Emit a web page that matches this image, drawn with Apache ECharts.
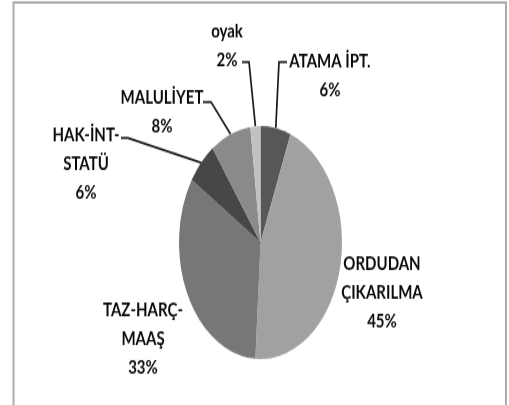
<!DOCTYPE html>
<html>
<head>
<meta charset="utf-8">
<script src="https://cdn.jsdelivr.net/npm/echarts@6/dist/echarts.min.js"></script>
<style>
  html, body { margin: 0; padding: 0; background: #fff; }
  #wrap { position: relative; width: 509px; height: 405px; overflow: hidden; }
  #pie, #labels { position: absolute; left: 0; top: 0; width: 509px; height: 405px; }
  #pie { transform-origin: 260.5px 242.5px; transform: scaleY(1.43); }
  #labels { transform-origin: 0 0; transform: scaleY(1.25); }
</style>
</head>
<body>
<div id="wrap">
  <div id="pie"></div>
  <div id="labels"></div>
</div>
<script>
// slice names and shares (%), clockwise from 12 o'clock
var categories = ['ATAMA İPT.', 'ORDUDAN\nÇIKARILMA', 'TAZ-HARÇ-\nMAAŞ', 'HAK-İNT-\nSTATÜ', 'MALULİYET', 'oyak'];
var values = [6, 45, 33, 6, 8, 2];
var colors = ['#575757', '#a1a1a1', '#777777', '#474747', '#8a8a8a', '#c2c2c2'];

// label anchors (centre of text block, page px) and leader line attach points
var labelAt = [[330, 76], [382, 293], [143, 339], [86, 164], [162, 112], [227, 46]];
var lineAttach = [[287, 62], null, null, [121, 138], [203, 102], [242, 62]];
var elbowDx = [-8, 0, 0, 7, 8, 7];

var cx = 260.5, cy = 242.5, r = 81.5, k = 1.43;
var s = 1.25; // vertical stretch of the text layer
var font = "Lato, 'Open Sans', sans-serif";

function makeData() {
    return categories.map(function (name, i) {
        return {
            name: name,
            value: values[i],
            itemStyle: { color: colors[i] },
            labelLine: { show: lineAttach[i] !== null }
        };
    });
}

// layer 1: the slices, stretched into an ellipse
var pieChart = echarts.init(document.getElementById('pie'));
pieChart.setOption({
    animation: false,
    series: [{
        type: 'pie',
        silent: true,
        center: [cx, cy],
        radius: r,
        startAngle: 90,
        clockwise: true,
        label: { show: false },
        labelLine: { show: false },
        emphasis: { disabled: true },
        itemStyle: { borderWidth: 0 },
        data: makeData()
    }]
});

// layer 2: frame, labels and leader lines (only the slice directions are used from this pie)
var labelChart = echarts.init(document.getElementById('labels'));
labelChart.setOption({
    animation: false,
    graphic: [{
        type: 'rect',
        shape: { x: 13.5, y: 2.5 / s, width: 492.5, height: 430 / s },
        style: { fill: 'none', stroke: '#ababab', lineWidth: 2 }
    }],
    series: [{
        type: 'pie',
        silent: true,
        center: [cx, cy / s],
        radius: 1,
        startAngle: 90,
        clockwise: true,
        avoidLabelOverlap: false,
        emphasis: { disabled: true },
        itemStyle: { color: 'rgba(0,0,0,0)', borderWidth: 0 },
        label: {
            show: true,
            formatter: '{b}\n{d}%',
            fontFamily: font,
            fontWeight: 'bold',
            fontSize: 15,
            lineHeight: 29 / s,
            color: '#0a0a0a',
            align: 'center'
        },
        labelLine: { lineStyle: { color: '#1a1a1a', width: 1.7 } },
        labelLayout: function (params) {
            var i = params.dataIndex;
            var out = {
                x: labelAt[i][0],
                y: labelAt[i][1] / s,
                align: 'center',
                verticalAlign: 'middle'
            };
            if (lineAttach[i] && params.labelLinePoints) {
                var p = params.labelLinePoints[0];
                var dx = p[0] - cx, dy = p[1] - cy / s;
                var len = Math.sqrt(dx * dx + dy * dy);
                var edge = [cx + dx / len * r, (cy + dy / len * r * k) / s];
                var end = [lineAttach[i][0], lineAttach[i][1] / s];
                out.labelLinePoints = [edge, [end[0] + elbowDx[i], end[1]], end];
            }
            return out;
        },
        data: makeData()
    }]
});
</script>
</body>
</html>
